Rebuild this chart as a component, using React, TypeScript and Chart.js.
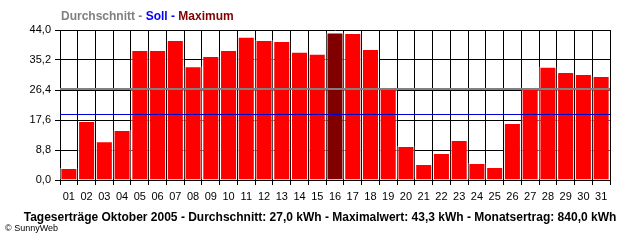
import React, { useEffect, useRef } from "react";
import { Chart, registerables } from "chart.js";

Chart.register(...registerables);

const days = [
  "01", "02", "03", "04", "05", "06", "07", "08", "09", "10",
  "11", "12", "13", "14", "15", "16", "17", "18", "19", "20",
  "21", "22", "23", "24", "25", "26", "27", "28", "29", "30", "31",
];

const dailyYield = [
  3.5, 17.3, 11.4, 14.7, 38.1, 38.1, 41.1, 33.4, 36.4, 38.1,
  42.0, 41.1, 40.8, 37.6, 37.0, 43.3, 43.1, 38.4, 27.3, 10.0,
  4.7, 7.9, 11.7, 5.0, 3.8, 16.7, 27.3, 33.2, 31.7, 31.1, 30.5,
];

const maxDayIndex = 15;
const averageValue = 27.0;
const targetValue = 19.5;
const yTicks = [0, 8.8, 17.6, 26.4, 35.2, 44.0];

const headerParts = [
  { text: "Durchschnitt - ", color: "#808080" },
  { text: "Soll - ", color: "#0000ff" },
  { text: "Maximum", color: "#800000" },
];
const footerText =
  "Tageserträge Oktober 2005 - Durchschnitt: 27,0 kWh - Maximalwert: 43,3 kWh - Monatsertrag: 840,0 kWh";
const copyrightText = "© SunnyWeb";

const FONT = '"Liberation Sans", Arial, sans-serif';

const overlayPlugin = {
  id: "overlay",
  afterDatasetsDraw(chart: any) {
    const { ctx, chartArea } = chart;
    const y = chart.scales.y;
    ctx.save();
    const ya = Math.round(y.getPixelForValue(averageValue)) + 1;
    ctx.strokeStyle = "#808080";
    ctx.lineWidth = 2;
    ctx.beginPath();
    ctx.moveTo(chartArea.left, ya);
    ctx.lineTo(chartArea.right, ya);
    ctx.stroke();
    const ys = Math.round(y.getPixelForValue(targetValue)) + 0.5;
    ctx.strokeStyle = "#0000cc";
    ctx.lineWidth = 1;
    ctx.beginPath();
    ctx.moveTo(chartArea.left, ys);
    ctx.lineTo(chartArea.right, ys);
    ctx.stroke();
    ctx.restore();
  },
  afterDraw(chart: any) {
    const { ctx } = chart;
    ctx.save();
    ctx.textBaseline = "alphabetic";
    ctx.font = `bold 12px ${FONT}`;
    ctx.textAlign = "left";
    let x = 61;
    for (const p of headerParts) {
      ctx.fillStyle = p.color;
      ctx.fillText(p.text, x, 20);
      x += ctx.measureText(p.text).width;
    }
    ctx.fillStyle = "#000000";
    ctx.textAlign = "center";
    ctx.font = `bold 12px ${FONT}`;
    ctx.fillText(footerText, 320, 221);
    ctx.textAlign = "left";
    ctx.font = `9px ${FONT}`;
    ctx.fillText(copyrightText, 5, 231);
    ctx.restore();
  },
};

export default function App() {
  const canvasRef = useRef<HTMLCanvasElement | null>(null);

  useEffect(() => {
    if (!canvasRef.current) return;
    const chart = new Chart(canvasRef.current, {
      type: "bar",
      data: {
        labels: days,
        datasets: [
          {
            data: dailyYield,
            backgroundColor: dailyYield.map((_, i) => (i === maxDayIndex ? "#800000" : "#ff0000")),
            borderColor: "#ffffff",
            borderWidth: 1,
            barPercentage: 0.96,
            categoryPercentage: 1.0,
          },
        ],
      },
      options: {
        responsive: false,
        animation: false,
        layout: { padding: { top: 30, right: 30, left: 0, bottom: 0 } },
        plugins: {
          legend: { display: false },
          tooltip: { enabled: false },
          title: { display: false },
        },
        scales: {
          x: {
            grid: {
              color: "#000000",
              lineWidth: 1,
              offset: true,
              drawTicks: true,
              tickLength: 5,
            },
            border: { color: "#000000", width: 1 },
            ticks: {
              color: "#000000",
              font: { family: FONT, size: 11 },
              padding: 5,
              maxRotation: 0,
              autoSkip: false,
            },
            afterFit: (scale: any) => {
              scale.height = 60;
            },
          },
          y: {
            min: 0,
            max: 44,
            grid: { color: "#000000", lineWidth: 1, drawTicks: true, tickLength: 5 },
            border: { color: "#000000", width: 1 },
            ticks: {
              color: "#000000",
              font: { family: FONT, size: 11 },
              padding: 4,
              callback: (v: any) => Number(v).toFixed(1).replace(".", ","),
            },
            afterBuildTicks: (scale: any) => {
              scale.ticks = yTicks.map((v) => ({ value: v }));
            },
            afterFit: (scale: any) => {
              scale.width = 60;
            },
          },
        },
      },
      plugins: [overlayPlugin],
    });
    return () => chart.destroy();
  }, []);

  return (
    <div style={{ position: "absolute", left: 0, top: 0, width: 640, height: 240, background: "#ffffff" }}>
      <canvas ref={canvasRef} width={640} height={240} style={{ display: "block" }} />
    </div>
  );
}
